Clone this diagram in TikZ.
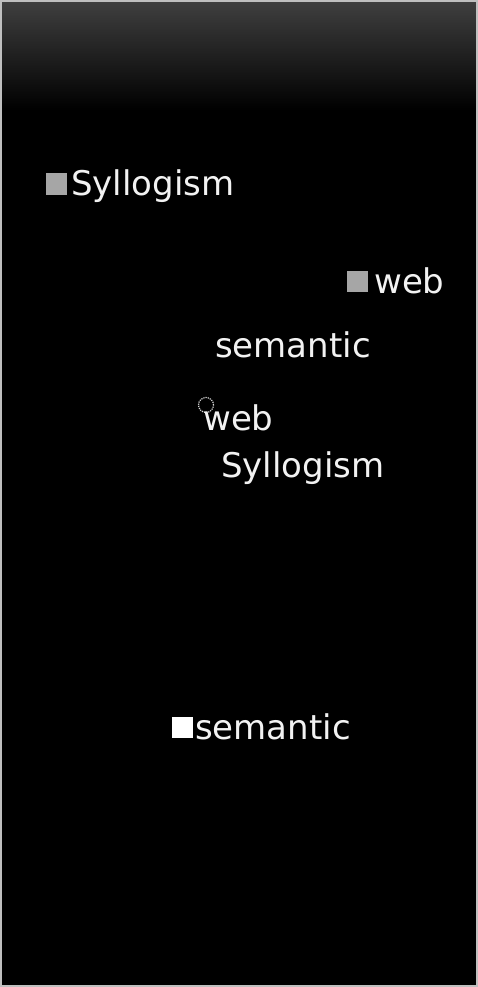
\documentclass[tikz,border=0pt]{standalone}
\usepackage{fontspec}
\newfontfamily\lbl{DejaVu Sans}
\begin{document}
\begin{tikzpicture}[x=1pt,y=-1pt,
  word/.style={inner sep=0pt, anchor=base west, text=white!90!gray, font=\lbl\fontsize{34}{40}\selectfont}]
\tikzset{sq/.style={inner sep=0pt, minimum size=21pt, draw=none}}
\useasboundingbox (0,0) rectangle (478,987);
\fill[black] (0,0) rectangle (478,987);
\shade[top color=gray!50!black, bottom color=black] (0,0) rectangle (478,110);
\draw[gray!50, line width=2pt] (1,1) rectangle (477,986);
% labels
\node[sq, fill=gray!70] (s1) at (56,184) {};
\node[word] (t1) at (71,195) {Syllogism};
\node[sq, fill=gray!70] (s2) at (357,281) {};
\node[word] (t2) at (374,293) {web};
\node[word] (t3) at (215,357) {semantic};
\node[circle, draw=gray!30, densely dotted, line width=1.2pt, inner sep=0pt, minimum size=15pt] (c1) at (206,405) {};
\node[word] (t4) at (203,430) {web};
\node[word] (t5) at (221,477) {Syllogism};
\node[sq, fill=white] (s3) at (182,727) {};
\node[word] (t6) at (195,739) {semantic};
\end{tikzpicture}
\end{document}
